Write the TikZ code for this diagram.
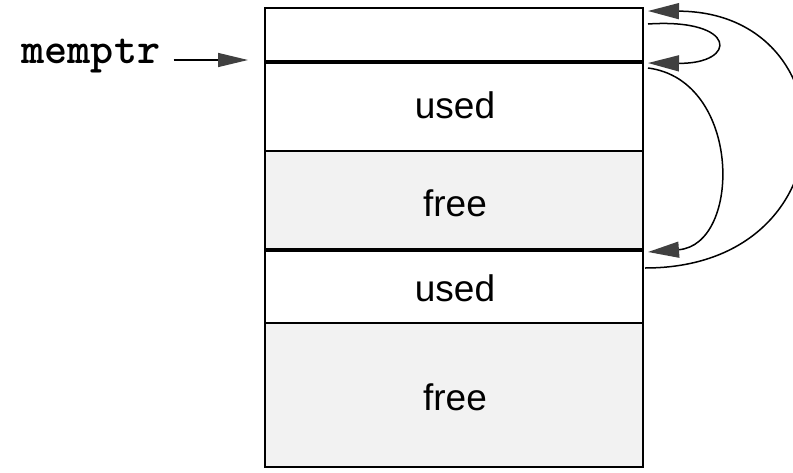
\documentclass[tikz,border=0pt]{standalone}
\usepackage{fontspec}
\setmainfont{Liberation Sans}
\usetikzlibrary{arrows.meta,positioning,calc}

\begin{document}
\begin{tikzpicture}[x=1pt,y=-1pt,
  lbl/.style={inner sep=0pt,anchor=base,font=\fontsize{37}{40}\selectfont},
  link/.style={line width=1.5pt,-{Triangle[length=31pt,width=16pt,color=black!75]}},
  freearea/.style={fill=gray!10}]
\useasboundingbox (0,0) rectangle (793,472);
% free blocks
\fill[freearea] (265,151) rectangle (643,250);
\fill[freearea] (265,323) rectangle (643,467);
% the memory
\draw[line width=1.8pt] (265,8) rectangle (643,467);
\draw[line width=3.4pt] (265,62) -- (643,62);
\draw[line width=1.6pt] (265,151) -- (643,151);
\draw[line width=3.4pt] (265,250) -- (643,250);
\draw[line width=1.6pt] (265,323) -- (643,323);
\node[lbl] (used1) at (455,118) {used};
\node[lbl] (free1) at (455,216) {free};
\node[lbl] (used2) at (455,301) {used};
\node[lbl] (free2) at (455,410) {free};
% pointer
\node[inner sep=0pt,anchor=base,font=\ttfamily\bfseries\fontsize{44}{46}\selectfont] (mem) at (91,63) {memptr};
\coordinate (hd) at (248,60);
\draw[line width=1.4pt,-{Triangle[length=30pt,width=14pt,color=black!75]}] ([xshift=13pt]mem.east |- hd) -- (hd);
% links
\coordinate (top) at (648,11);
\coordinate (a1) at (648,24);
\coordinate (b0) at (648,63);
\coordinate (b1) at (648,68);
\coordinate (c0) at (648,252);
\coordinate (c1) at (645,268);
\draw[link] (a1) .. controls (738,18) and (738,64) .. (b0);
\draw[link] (b1) .. controls (742,80) and (742,245) .. (c0);
\draw[link] (c1) .. controls (852,268) and (852,12) .. (top);
\end{tikzpicture}
\end{document}
